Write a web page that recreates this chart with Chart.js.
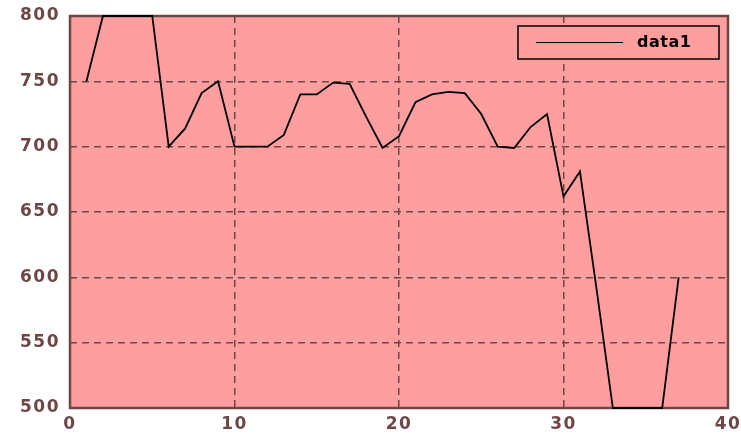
<!DOCTYPE html>
<html>
<head>
<meta charset="utf-8">
<script src="https://cdn.jsdelivr.net/npm/chart.js@4/dist/chart.umd.min.js"></script>
<style>
  html, body { margin: 0; padding: 0; background: #ffffff; }
  #wrap { width: 741px; height: 434px; }
</style>
</head>
<body>
<div id="wrap"><canvas id="c" width="741" height="434"></canvas></div>
<script>
const seriesLabel = 'data1';
const xValues = [1,2,3,4,5,6,7,8,9,10,11,12,13,14,15,16,17,18,19,20,21,22,23,24,25,26,27,28,29,30,31,32,33,34,35,36,37];
const yValues = [750,800,800,800,800,700,714,741,750,700,700,700,709,740,740,749,748,723,699,708,734,740,742,741,725,700,699,715,725,662,681,592,500,500,500,500,600];
const xMin = 0, xMax = 40, xStep = 10;
const yMin = 500, yMax = 800, yStep = 50;

const BROWN = '#6e4646';
const PINK = '#ff9e9e';

const spacingPlugin = {
  id: 'spacing',
  beforeLayout(chart) { chart.ctx.letterSpacing = '1.5px'; },
  beforeDraw(chart) { chart.ctx.letterSpacing = '1.5px'; }
};

const framePlugin = {
  id: 'frame',
  beforeDraw(chart) {
    const { ctx, chartArea: a } = chart;
    ctx.save();
    ctx.fillStyle = PINK;
    ctx.fillRect(a.left, a.top, a.right - a.left, a.bottom - a.top);
    ctx.restore();
  },
  beforeDatasetsDraw(chart) {
    const { ctx, chartArea: a } = chart;
    ctx.save();
    ctx.strokeStyle = BROWN;
    ctx.lineWidth = 2.5;
    ctx.strokeRect(a.left, a.top, a.right - a.left, a.bottom - a.top);
    ctx.restore();
  },
  afterDraw(chart) {
    const { ctx } = chart;
    ctx.save();
    const bx = 518, by = 26, bw = 201, bh = 33;
    ctx.fillStyle = PINK;
    ctx.fillRect(bx, by, bw, bh);
    ctx.strokeStyle = '#000000';
    ctx.lineWidth = 1.5;
    ctx.strokeRect(bx, by, bw, bh);
    ctx.beginPath();
    ctx.lineWidth = 1;
    ctx.moveTo(536, 42.5);
    ctx.lineTo(623, 42.5);
    ctx.stroke();
    ctx.fillStyle = '#000000';
    ctx.font = 'bold 16px "DejaVu Sans"';
    ctx.letterSpacing = '0.5px';
    ctx.textBaseline = 'middle';
    ctx.textAlign = 'left';
    ctx.fillText(chart.data.datasets[0].label, 637, 43);
    ctx.restore();
  }
};

new Chart(document.getElementById('c'), {
  type: 'line',
  data: {
    datasets: [{
      label: seriesLabel,
      data: xValues.map((x, i) => ({ x: x, y: yValues[i] })),
      borderColor: '#000000',
      borderWidth: 1.8,
      pointRadius: 0,
      tension: 0,
      fill: false,
      clip: 4
    }]
  },
  options: {
    responsive: false,
    animation: false,
    devicePixelRatio: 1,
    layout: { padding: { top: 16, right: 13, left: 0, bottom: 0 } },
    plugins: { legend: { display: false }, tooltip: { enabled: false } },
    scales: {
      x: {
        type: 'linear',
        min: xMin, max: xMax,
        ticks: { stepSize: xStep, color: BROWN, font: { family: 'DejaVu Sans', size: 17, weight: 'bold' }, padding: 6, maxRotation: 0 },
        grid: { color: BROWN, lineWidth: 1.5, drawTicks: false },
        border: { display: false, dash: [7, 5] },
        afterFit(s) { s.height = 26; s.paddingLeft = 0; s.paddingRight = 0; }
      },
      y: {
        type: 'linear',
        min: yMin, max: yMax,
        ticks: { stepSize: yStep, color: BROWN, font: { family: 'DejaVu Sans', size: 17, weight: 'bold' }, padding: 10 },
        grid: { color: BROWN, lineWidth: 1.5, drawTicks: false },
        border: { display: false, dash: [7, 5] },
        afterFit(s) { s.width = 70; s.paddingTop = 0; s.paddingBottom = 0; }
      }
    }
  },
  plugins: [spacingPlugin, framePlugin]
});
</script>
</body>
</html>
